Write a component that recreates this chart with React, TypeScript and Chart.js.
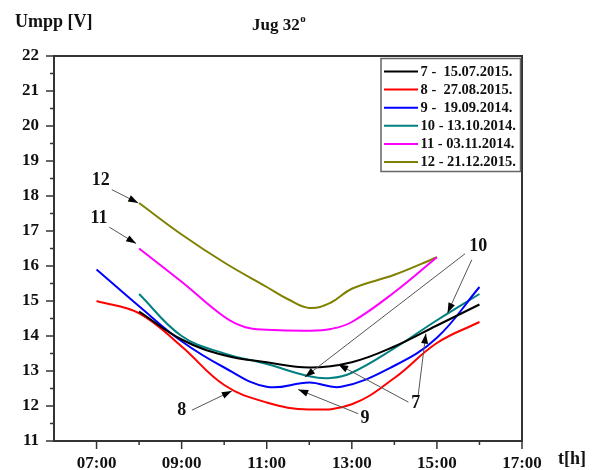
import React, { useEffect, useRef } from "react";
import { Chart, registerables } from "chart.js";

Chart.register(...registerables);

// ---- data (hours, voltage) ----
const times7 = [8, 9, 10, 11, 12, 13, 14, 15, 16];
const values7 = [14.7, 13.9, 13.45, 13.25, 13.1, 13.25, 13.7, 14.3, 14.9];

const times8 = [7, 8, 9, 10, 11, 12, 13, 14, 15, 16];
const values8 = [15.0, 14.65, 13.7, 12.6, 12.1, 11.9, 12.05, 12.8, 13.8, 14.4];

const times9 = [7, 8, 9, 10, 11, 12, 12.75, 14, 15, 16];
const values9 = [15.9, 14.85, 13.85, 13.1, 12.55, 12.67, 12.55, 13.15, 13.95, 15.4];

const times10 = [8, 9, 10, 11, 12, 12.5, 13, 14, 15, 16];
const values10 = [15.2, 14.0, 13.5, 13.2, 12.85, 12.8, 12.95, 13.65, 14.45, 15.2];

const times11 = [8, 9, 10, 10.5, 11, 12, 12.5, 13, 14, 15];
const values11 = [16.5, 15.55, 14.55, 14.25, 14.18, 14.15, 14.2, 14.4, 15.25, 16.25];

const times12 = [8, 9, 10, 11, 11.5, 12, 12.5, 13, 14, 15];
const values12 = [17.8, 16.9, 16.1, 15.4, 15.05, 14.8, 14.95, 15.35, 15.75, 16.25];

const legendLabels = [
  "7 -  15.07.2015.",
  "8 -  27.08.2015.",
  "9 -  19.09.2014.",
  "10 - 13.10.2014.",
  "11 - 03.11.2014.",
  "12 - 21.12.2015.",
];
const seriesColors = ["#000000", "#ff0000", "#0000ff", "#008080", "#ff00ff", "#808000"];

const xTickValues = [7, 9, 11, 13, 15, 17];
const xMinorValues = [8, 10, 12, 14, 16];
const xMin = 6;
const xMax = 17;
const yMin = 11;
const yMax = 22;

const titleText = "Jug 32";
const titleSup = "o";
const yTitle = "Umpp [V]";
const xTitle = "t[h]";

// curve callouts, in data units [hour, volts]
const callouts = [
  { text: "12", at: [7.1, 18.45], arrows: [[[7.36, 18.18], [7.98, 17.8]]] },
  { text: "11", at: [7.06, 17.35], arrows: [[[7.3, 17.11], [7.93, 16.64]]] },
  {
    text: "10",
    at: [15.97, 16.56],
    arrows: [
      [[15.66, 16.35], [11.9, 12.83]],
      [[15.82, 16.18], [15.25, 14.66]],
    ],
  },
  {
    text: "7",
    at: [14.5, 12.07],
    arrows: [
      [[14.33, 12.11], [12.68, 13.19]],
      [[14.56, 12.31], [14.74, 14.07]],
    ],
  },
  { text: "9", at: [13.31, 11.64], arrows: [[[13.15, 11.78], [11.74, 12.47]]] },
  { text: "8", at: [9.0, 11.88], arrows: [[[9.24, 11.88], [10.18, 12.43]]] },
];

const FONT = "'Liberation Serif', 'Times New Roman', serif";

const seriesTimes = [times7, times8, times9, times10, times11, times12];
const seriesValues = [values7, values8, values9, values10, values11, values12];

function fmtHour(v: number) {
  return (v < 10 ? "0" : "") + v + ":00";
}

function drawArrow(ctx: CanvasRenderingContext2D, x1: number, y1: number, x2: number, y2: number) {
  ctx.strokeStyle = "#555";
  ctx.lineWidth = 1;
  ctx.beginPath();
  ctx.moveTo(x1, y1);
  ctx.lineTo(x2, y2);
  ctx.stroke();
  const a = Math.atan2(y2 - y1, x2 - x1);
  const L = 10;
  const W = 3.5;
  const c = Math.cos(a);
  const s = Math.sin(a);
  ctx.fillStyle = "#000";
  ctx.beginPath();
  ctx.moveTo(x2, y2);
  ctx.lineTo(x2 - L * c + W * s, y2 - L * s - W * c);
  ctx.lineTo(x2 - L * c - W * s, y2 - L * s + W * c);
  ctx.closePath();
  ctx.fill();
}

const decor = {
  id: "decor",
  afterDraw(chart: any) {
    const ctx: CanvasRenderingContext2D = chart.ctx;
    const { left, right, top, bottom } = chart.chartArea;
    const xs = chart.scales.x;
    const ys = chart.scales.y;
    ctx.save();

    // frame
    ctx.strokeStyle = "#333";
    ctx.lineWidth = 2;
    ctx.strokeRect(left, top, right - left, bottom - top);

    // y ticks
    ctx.lineWidth = 1.5;
    for (let v = yMin; v <= yMax + 1e-9; v += 0.5) {
      const py = ys.getPixelForValue(v);
      const len = Math.abs(v - Math.round(v)) < 1e-6 ? 8 : 4;
      ctx.beginPath();
      ctx.moveTo(left - len, py);
      ctx.lineTo(left, py);
      ctx.stroke();
    }
    // x ticks
    xTickValues.forEach((v) => {
      const px = xs.getPixelForValue(v);
      ctx.beginPath();
      ctx.moveTo(px, bottom);
      ctx.lineTo(px, bottom + 8);
      ctx.stroke();
    });
    xMinorValues.forEach((v) => {
      const px = xs.getPixelForValue(v);
      ctx.beginPath();
      ctx.moveTo(px, bottom);
      ctx.lineTo(px, bottom + 4);
      ctx.stroke();
    });

    // titles
    ctx.fillStyle = "#111";
    ctx.textBaseline = "alphabetic";
    ctx.textAlign = "left";
    ctx.font = `bold 18px ${FONT}`;
    ctx.fillText(yTitle, 15, 27);
    ctx.font = `bold 17px ${FONT}`;
    ctx.fillText(titleText, 252, 30);
    const tw = ctx.measureText(titleText).width;
    ctx.font = `bold 11px ${FONT}`;
    ctx.fillText(titleSup, 252 + tw + 0.5, 22);
    ctx.font = `bold 18px ${FONT}`;
    ctx.fillText(xTitle, 558, 464);

    // callouts
    callouts.forEach((c) => {
      c.arrows.forEach(([a, b]) => {
        drawArrow(
          ctx,
          xs.getPixelForValue(a[0]),
          ys.getPixelForValue(a[1]),
          xs.getPixelForValue(b[0]),
          ys.getPixelForValue(b[1])
        );
      });
      ctx.fillStyle = "#111";
      ctx.font = `bold 18px ${FONT}`;
      ctx.textAlign = "center";
      ctx.textBaseline = "middle";
      ctx.fillText(c.text, xs.getPixelForValue(c.at[0]), ys.getPixelForValue(c.at[1]));
    });

    // legend
    const bx = 381;
    const by = 58.5;
    const bw = 139.5;
    const bh = 113;
    ctx.fillStyle = "#fff";
    ctx.fillRect(bx, by, bw, bh);
    ctx.strokeStyle = "#666";
    ctx.lineWidth = 1.5;
    ctx.strokeRect(bx, by, bw, bh);
    const ds = chart.data.datasets;
    ds.forEach((d: any, i: number) => {
      const y = 71.5 + i * 18.1;
      ctx.strokeStyle = d.borderColor;
      ctx.lineWidth = 2;
      ctx.beginPath();
      ctx.moveTo(384, y);
      ctx.lineTo(418, y);
      ctx.stroke();
      ctx.fillStyle = "#111";
      ctx.font = `bold 14.5px ${FONT}`;
      ctx.textAlign = "left";
      ctx.textBaseline = "middle";
      ctx.fillText(d.label, 420.5, y + 0.5);
    });

    ctx.restore();
  },
};

export default function App() {
  const ref = useRef<HTMLCanvasElement>(null);
  useEffect(() => {
    const datasets = seriesTimes.map((ts, i) => ({
      label: legendLabels[i],
      data: ts.map((t, j) => ({ x: t, y: seriesValues[i][j] })),
      borderColor: seriesColors[i],
      backgroundColor: seriesColors[i],
      borderWidth: 2,
      pointRadius: 0,
      fill: false,
      tension: 0.4,
    }));
    const tickFont = { family: FONT, size: 17, weight: "bold" as const };
    const chart = new Chart(ref.current as HTMLCanvasElement, {
      type: "line",
      data: { datasets },
      options: {
        responsive: false,
        animation: false,
        layout: { padding: { left: 0, top: 56, right: 76, bottom: 0 } },
        plugins: { legend: { display: false }, tooltip: { enabled: false } },
        scales: {
          x: {
            type: "linear",
            min: xMin,
            max: xMax,
            grid: { display: false, drawTicks: false },
            border: { display: false },
            afterBuildTicks: (s: any) => {
              s.ticks = xTickValues.map((v) => ({ value: v }));
            },
            afterFit: (s: any) => {
              s.height = 29;
            },
            ticks: {
              callback: (v: any) => fmtHour(Number(v)),
              font: tickFont,
              color: "#111",
              padding: 12,
              autoSkip: false,
              maxRotation: 0,
            },
          },
          y: {
            type: "linear",
            min: yMin,
            max: yMax,
            grid: { display: false, drawTicks: false },
            border: { display: false },
            afterFit: (s: any) => {
              s.width = 54;
            },
            ticks: { stepSize: 1, font: tickFont, color: "#111", padding: 15 },
          },
        },
      },
      plugins: [decor],
    });
    return () => chart.destroy();
  }, []);
  return (
    <div style={{ position: "absolute", left: 0, top: 0, width: 598, height: 470, background: "#fff" }}>
      <canvas ref={ref} width={598} height={470} style={{ display: "block" }} />
    </div>
  );
}
